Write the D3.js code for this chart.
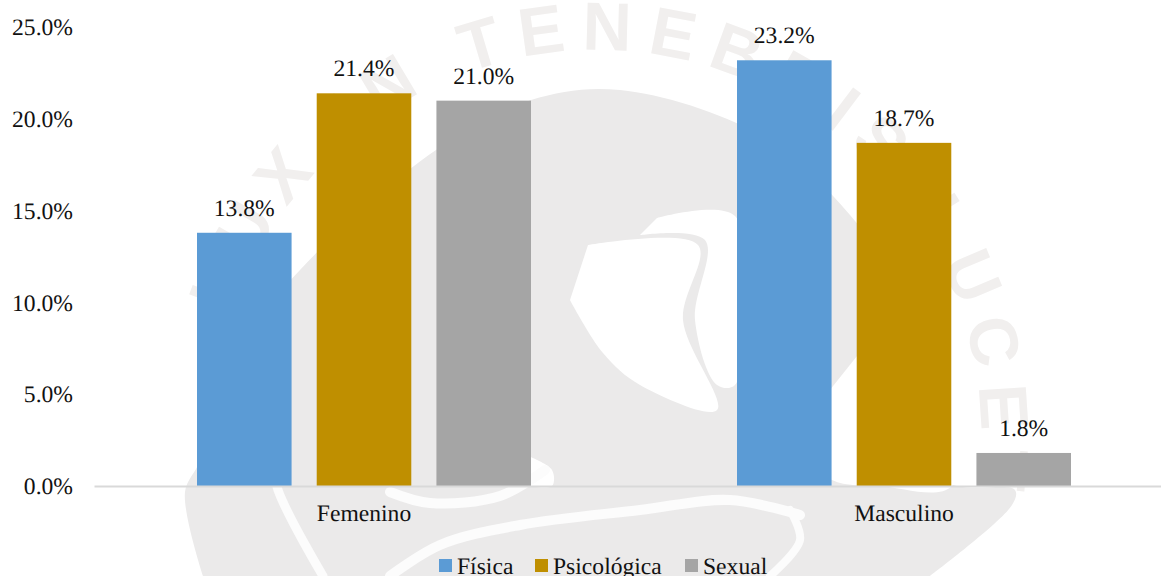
<!DOCTYPE html>
<html>
<head>
<meta charset="utf-8">
<script src="https://cdn.jsdelivr.net/npm/d3@7"></script>
<style>
    html, body { margin: 0; padding: 0; background: #fff; overflow: hidden; }
    text { font-family: "Liberation Serif", serif; fill: #111; text-rendering: geometricPrecision; }
</style>
</head>
<body>
<div id="chart"></div>
<script>
const categories = ["Femenino", "Masculino"];
const seriesNames = ["Física", "Psicológica", "Sexual"];
const fisica = [13.8, 23.2];
const psicologica = [21.4, 18.7];
const sexual = [21.0, 1.8];
const yTicks = [0, 5, 10, 15, 20, 25];
const colors = ["#5b9bd5", "#bf8f00", "#a5a5a5"];
const sealText = "LUX IN TENEBRIS LUCET";

const seriesValues = [fisica, psicologica, sexual];
const width = 1161, height = 576;
const fontSize = 23.6;

const svg = d3.select("#chart").append("svg")
    .attr("width", width)
    .attr("height", height)
    .style("display", "block");

//Faint seal behind the chart
const seal = svg.append("g").attr("class", "seal");
const sealX = 597, sealY = 434, sealR = 384;
const toRad = Math.PI / 180;
const arcPath = d3.path();
arcPath.arc(sealX, sealY, sealR, -162 * toRad, 8 * toRad);
seal.append("path")
    .attr("id", "seal-arc")
    .attr("fill", "none")
    .attr("d", arcPath.toString());
seal.append("text")
    .style("font-family", "'Liberation Sans', sans-serif")
    .style("font-weight", "bold")
    .style("font-size", "68px")
    .style("fill", "#f1efee")
    .append("textPath")
    .attr("href", "#seal-arc")
    .attr("textLength", sealR * 170 * toRad)
    .text(sealText);

const sealLine = d3.line().curve(d3.curveCatmullRom);
function sealShape(points) {
    seal.append("path")
        .attr("fill", "#fff")
        .attr("d", sealLine(points) + "Z");
}
function sealStroke(points, w) {
    seal.append("path")
        .attr("fill", "none")
        .attr("stroke", "#fcfcfc")
        .attr("stroke-width", w)
        .attr("stroke-linecap", "round")
        .attr("d", sealLine(points));
}
seal.append("path")
    .attr("fill", "#ebeaea")
    .attr("d", sealLine([[203, 576], [185, 492], [200, 460], [208, 390], [300, 270], [436, 150], [531, 100], [620, 90], [760, 135], [850, 215], [930, 340], [945, 480], [1015, 490], [1012, 505], [930, 576]]) + "Z");
sealShape([[588, 245], [698, 245], [683, 320], [717, 410], [640, 385], [603, 353], [570, 300]]);
sealShape([[657, 218], [735, 216], [735, 385], [717, 385], [695, 320], [705, 240], [640, 235]]);
sealShape([[857, 356], [950, 340], [952, 486], [880, 486], [832, 480], [790, 440]]);
sealShape([[528, 456], [552, 470], [552, 486], [528, 486]]);
sealStroke([[268, 440], [278, 490], [323, 576]], 9);
sealStroke([[390, 492], [430, 503], [500, 496], [545, 470]], 10);
sealStroke([[390, 576], [440, 545], [520, 525], [640, 510], [730, 500], [800, 515]], 10);
sealStroke([[770, 576], [800, 540], [790, 510]], 8);

//Scales
const x0 = d3.scaleBand()
    .domain(categories)
    .range([94, 1174]);
const x1 = d3.scaleBand()
    .domain(seriesNames)
    .range([103, 437])
    .paddingInner(0.21);
const y = d3.scaleLinear()
    .domain([0, 25])
    .range([486, 27.25]);

//Bars
const groups = svg.selectAll(".group")
    .data(categories)
    .enter()
    .append("g")
    .attr("class", "group")
    .attr("transform", function (d) {
        return "translate(" + x0(d) + ",0)";
    });

groups.each(function (c, ci) {
    const rows = seriesNames.map(function (s, si) {
        return {name: s, value: seriesValues[si][ci], color: colors[si]};
    });
    const g = d3.select(this);
    g.selectAll("rect")
        .data(rows)
        .enter()
        .append("rect")
        .attr("x", d => x1(d.name))
        .attr("y", d => y(d.value))
        .attr("width", x1.bandwidth())
        .attr("height", d => y(0) - y(d.value))
        .attr("fill", d => d.color);
    g.selectAll(".value")
        .data(rows)
        .enter()
        .append("text")
        .attr("class", "value")
        .attr("x", d => x1(d.name) + x1.bandwidth() / 2)
        .attr("y", d => y(d.value) - 17)
        .attr("text-anchor", "middle")
        .style("font-size", fontSize + "px")
        .text(d => d.value.toFixed(1) + "%");
});

//Axes
const yAxis = svg.append("g")
    .attr("transform", "translate(73,0)")
    .call(d3.axisLeft(y).tickValues(yTicks).tickSize(0).tickPadding(0).tickFormat(d => d.toFixed(1) + "%"));
yAxis.select(".domain").remove();
yAxis.selectAll("text")
    .style("font-family", "'Liberation Serif', serif")
    .style("font-size", fontSize + "px")
    .attr("dy", "0.32em");

const xAxis = svg.append("g")
    .attr("transform", "translate(0," + y(0) + ")")
    .call(d3.axisBottom(x0).tickSize(0).tickPadding(18));
xAxis.select(".domain")
    .attr("stroke", "#d9d9d9")
    .attr("stroke-width", 2);
xAxis.selectAll("text")
    .style("font-family", "'Liberation Serif', serif")
    .style("font-size", fontSize + "px");

//Legend
const legendX = [439, 535, 685];
const legend = svg.selectAll(".legend")
    .data(seriesNames)
    .enter()
    .append("g")
    .attr("class", "legend")
    .attr("transform", (d, i) => "translate(" + legendX[i] + ",559)");
legend.append("rect")
    .attr("width", 13)
    .attr("height", 13)
    .attr("fill", (d, i) => colors[i]);
legend.append("text")
    .attr("x", 18)
    .attr("y", 15)
    .style("font-size", fontSize + "px")
    .text(d => d);
</script>
</body>
</html>
